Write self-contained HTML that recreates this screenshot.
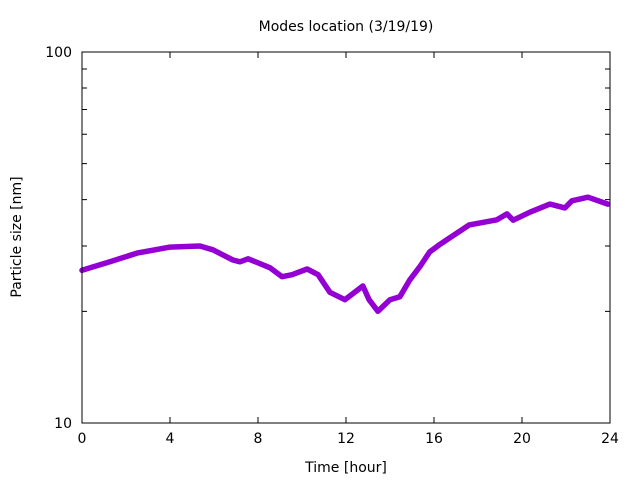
<!DOCTYPE html>
<html><head><meta charset="utf-8"><style>
body{margin:0;background:#fff}
svg{display:block;font-family:"DejaVu Sans","Liberation Sans",sans-serif}
</style></head><body>
<svg id="chart" width="640" height="480">
<rect width="640" height="480" fill="#fff"/>
<text x="346" y="31" font-size="14" text-anchor="middle">Modes location (3/19/19)</text>
<text x="346" y="472" font-size="14" text-anchor="middle">Time [hour]</text>
<text transform="translate(21,237) rotate(-90)" font-size="14" text-anchor="middle">Particle size [nm]</text>
<g id="axes"></g>
<g id="series"></g>
<rect x="82" y="52" width="528" height="371" fill="none" stroke="#000" stroke-width="1"/>
</svg>
<script>
const hours=[0,1.27,2.5,4.0,5.36,5.95,6.86,7.18,7.55,8.55,9.09,9.55,10.23,10.73,11.27,11.95,12.77,13.05,13.45,14.0,14.45,14.9,15.36,15.8,16.27,16.7,17.6,18.86,19.32,19.6,20.36,21.27,21.95,22.27,23.0,23.9];
const sizes=[25.8,27.2,28.7,29.8,30.0,29.3,27.5,27.2,27.7,26.2,24.8,25.1,26.0,25.1,22.5,21.5,23.4,21.5,20.0,21.5,21.9,24.3,26.4,28.9,30.3,31.5,34.2,35.3,36.6,35.2,37.0,38.9,38.0,39.7,40.6,38.9];
const xTicks=[0,4,8,12,16,20,24];
const yMajor=[10,100];
const yMinor=[20,30,40,50,60,70,80,90];
const X0=82,X1=610,Y0=423,Y1=52;
const xs=h=>X0+(h-0)/(24-0)*(X1-X0);
const ys=v=>Y0-(Math.log10(v)-1)*(Y0-Y1);
const NS="http://www.w3.org/2000/svg";
const axes=document.getElementById('axes'),ser=document.getElementById('series');
function mk(tag,at,par){const e=document.createElementNS(NS,tag);for(const k in at)e.setAttribute(k,at[k]);par.appendChild(e);return e;}
xTicks.forEach(t=>{const x=xs(t);
 const l=mk('path',{d:`M${x},${Y0}v-6M${x},${Y1}v6`,stroke:'#000'},axes);
 
 
 const tx=mk('text',{x:x,y:Y0+20,'font-size':14,'text-anchor':'middle'},axes);tx.textContent=t;
 
 
});
yMajor.forEach(v=>{const y=ys(v);
 const l=mk('path',{d:`M${X0},${y}h9M${X1},${y}h-9`,stroke:'#000'},axes);
 
 
 const tx=mk('text',{x:X0-10,y:y+5,'font-size':14,'text-anchor':'end'},axes);tx.textContent=v;
 
 
});
yMinor.forEach(v=>{const y=ys(v);
 const l=mk('path',{d:`M${X0},${y}h5M${X1},${y}h-5`,stroke:'#000'},axes);
 
 
});
const pts=hours.map((h,i)=>xs(h).toFixed(1)+','+ys(sizes[i]).toFixed(1)).join(' ');
const pl=mk('polyline',{points:pts,fill:'none',stroke:'#9400d3','stroke-width':5.5,'stroke-linejoin':'round','stroke-linecap':'round'},ser);


</script>
</body></html>
